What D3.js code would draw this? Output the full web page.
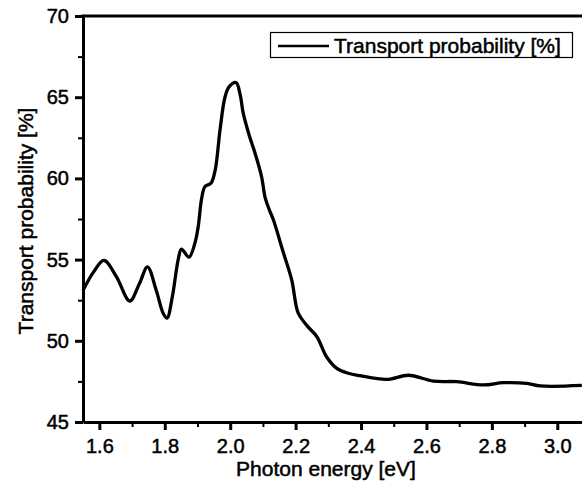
<!DOCTYPE html>
<meta charset="utf-8">
<style>

body {
  margin: 0;
  background: #fff;
}

text {
  font-family: "Liberation Sans", Arial, Helvetica, sans-serif;
  fill: #000;
  stroke: #000;
  stroke-width: 0.5px;
}

.axis path,
.axis line {
  stroke: #000;
}

.curve {
  fill: none;
  stroke: #000;
  stroke-width: 3.3px;
  stroke-linejoin: round;
}

</style>
<body>
<script src="https://cdn.jsdelivr.net/npm/d3@7"></script>
<script>

// values
var energy = [1.550, 1.581, 1.614, 1.652, 1.693, 1.723, 1.747, 1.774, 1.795, 1.807,
              1.823, 1.841, 1.851, 1.874, 1.892, 1.902, 1.913, 1.923, 1.941, 1.954,
              1.969, 1.984, 1.997, 2.018, 2.030, 2.040, 2.056, 2.076, 2.096, 2.107,
              2.120, 2.132, 2.163, 2.188, 2.208, 2.234, 2.265, 2.295, 2.326, 2.361,
              2.397, 2.479, 2.545, 2.621, 2.693, 2.774, 2.835, 2.907, 2.948, 3.075];

var probability = [53.1, 54.2, 54.95, 53.95, 52.45, 53.55, 54.55, 53.1, 51.7, 51.4,
                   52.7, 55.0, 55.65, 55.15, 56.0, 57.0, 58.8, 59.5, 59.7, 60.5,
                   63.0, 65.0, 65.65, 65.9, 65.2, 64.0, 62.8, 61.55, 60.1, 58.8,
                   58.05, 57.45, 55.4, 53.75, 51.7, 50.95, 50.25, 49.0, 48.3, 48.0,
                   47.85, 47.62, 47.88, 47.52, 47.48, 47.28, 47.42, 47.38, 47.22, 47.25];

var xTicks = [1.6, 1.8, 2.0, 2.2, 2.4, 2.6, 2.8, 3.0];
var xMinor = [1.7, 1.9, 2.1, 2.3, 2.5, 2.7, 2.9];
var yTicks = [45, 50, 55, 60, 65, 70];
var yMinor = [47.5, 52.5, 57.5, 62.5, 67.5];

var seriesName = "Transport probability [%]";

var width = 582,
    height = 485;

// plot box (right edge runs past the picture, as in the scan)
var plotLeft = 83, plotRight = 590, plotTop = 16, plotBottom = 422;

var x = d3.scaleLinear().domain([1.55, 3.1]).range([plotLeft, plotRight]);
var y = d3.scaleLinear().domain([45, 70]).range([plotBottom, plotTop]);

var svg = d3.select("body").append("svg")
    .attr("width", width)
    .attr("height", height);

var points = energy.map(function(e, i) { return [e, probability[i]]; });

var line = d3.line()
    .x(function(d) { return x(d[0]); })
    .y(function(d) { return y(d[1]); })
    .curve(d3.curveCatmullRom.alpha(0.5));

svg.append("path")
    .datum(points)
    .attr("class", "curve")
    .attr("d", line);

// minor ticks first, major axes on top
svg.append("g")
    .attr("class", "axis")
    .attr("transform", "translate(0," + plotBottom + ")")
    .call(d3.axisBottom(x).tickValues(xMinor).tickSize(5).tickSizeOuter(0).tickFormat(""))
    .call(function(g) { g.select(".domain").remove(); })
    .selectAll("line").style("stroke-width", "2px");

svg.append("g")
    .attr("class", "axis")
    .attr("transform", "translate(" + plotLeft + ",0)")
    .call(d3.axisLeft(y).tickValues(yMinor).tickSize(5).tickSizeOuter(0).tickFormat(""))
    .call(function(g) { g.select(".domain").remove(); })
    .selectAll("line").style("stroke-width", "2px");

var xAxis = svg.append("g")
    .attr("class", "axis")
    .attr("transform", "translate(0," + plotBottom + ")")
    .call(d3.axisBottom(x).tickValues(xTicks).tickSize(8).tickPadding(9).tickSizeOuter(0)
      .tickFormat(d3.format(".1f")));

xAxis.select(".domain").style("stroke-width", "3px");
xAxis.selectAll("line").style("stroke-width", "3px");
xAxis.selectAll("text").style("font-size", "20px");

var yAxis = svg.append("g")
    .attr("class", "axis")
    .attr("transform", "translate(" + plotLeft + ",0)")
    .call(d3.axisLeft(y).tickValues(yTicks).tickSize(8).tickPadding(6).tickSizeOuter(0));

yAxis.select(".domain").style("stroke-width", "3px");
yAxis.selectAll("line").style("stroke-width", "3px");
yAxis.selectAll("text").style("font-size", "20px");

// top frame line
svg.append("line")
    .attr("x1", plotLeft - 1.5).attr("x2", width)
    .attr("y1", plotTop).attr("y2", plotTop)
    .style("stroke", "#000")
    .style("stroke-width", "3px");

svg.append("text")
    .attr("x", 326)
    .attr("y", 476)
    .attr("text-anchor", "middle")
    .style("font-size", "21px")
    .text("Photon energy [eV]");

svg.append("text")
    .attr("transform", "translate(33,221) rotate(-90)")
    .attr("text-anchor", "middle")
    .style("font-size", "21px")
    .text(seriesName);

// legend
var legend = svg.append("g");

legend.append("rect")
    .attr("x", 270.5).attr("y", 32.5)
    .attr("width", 302).attr("height", 25)
    .style("fill", "#fff")
    .style("stroke", "#000")
    .style("stroke-width", "1.2px");

legend.append("line")
    .attr("x1", 278).attr("x2", 329)
    .attr("y1", 46).attr("y2", 46)
    .style("stroke", "#000")
    .style("stroke-width", "2.5px");

legend.append("text")
    .attr("x", 334)
    .attr("y", 52.5)
    .style("font-size", "21px")
    .text(seriesName);

</script>
